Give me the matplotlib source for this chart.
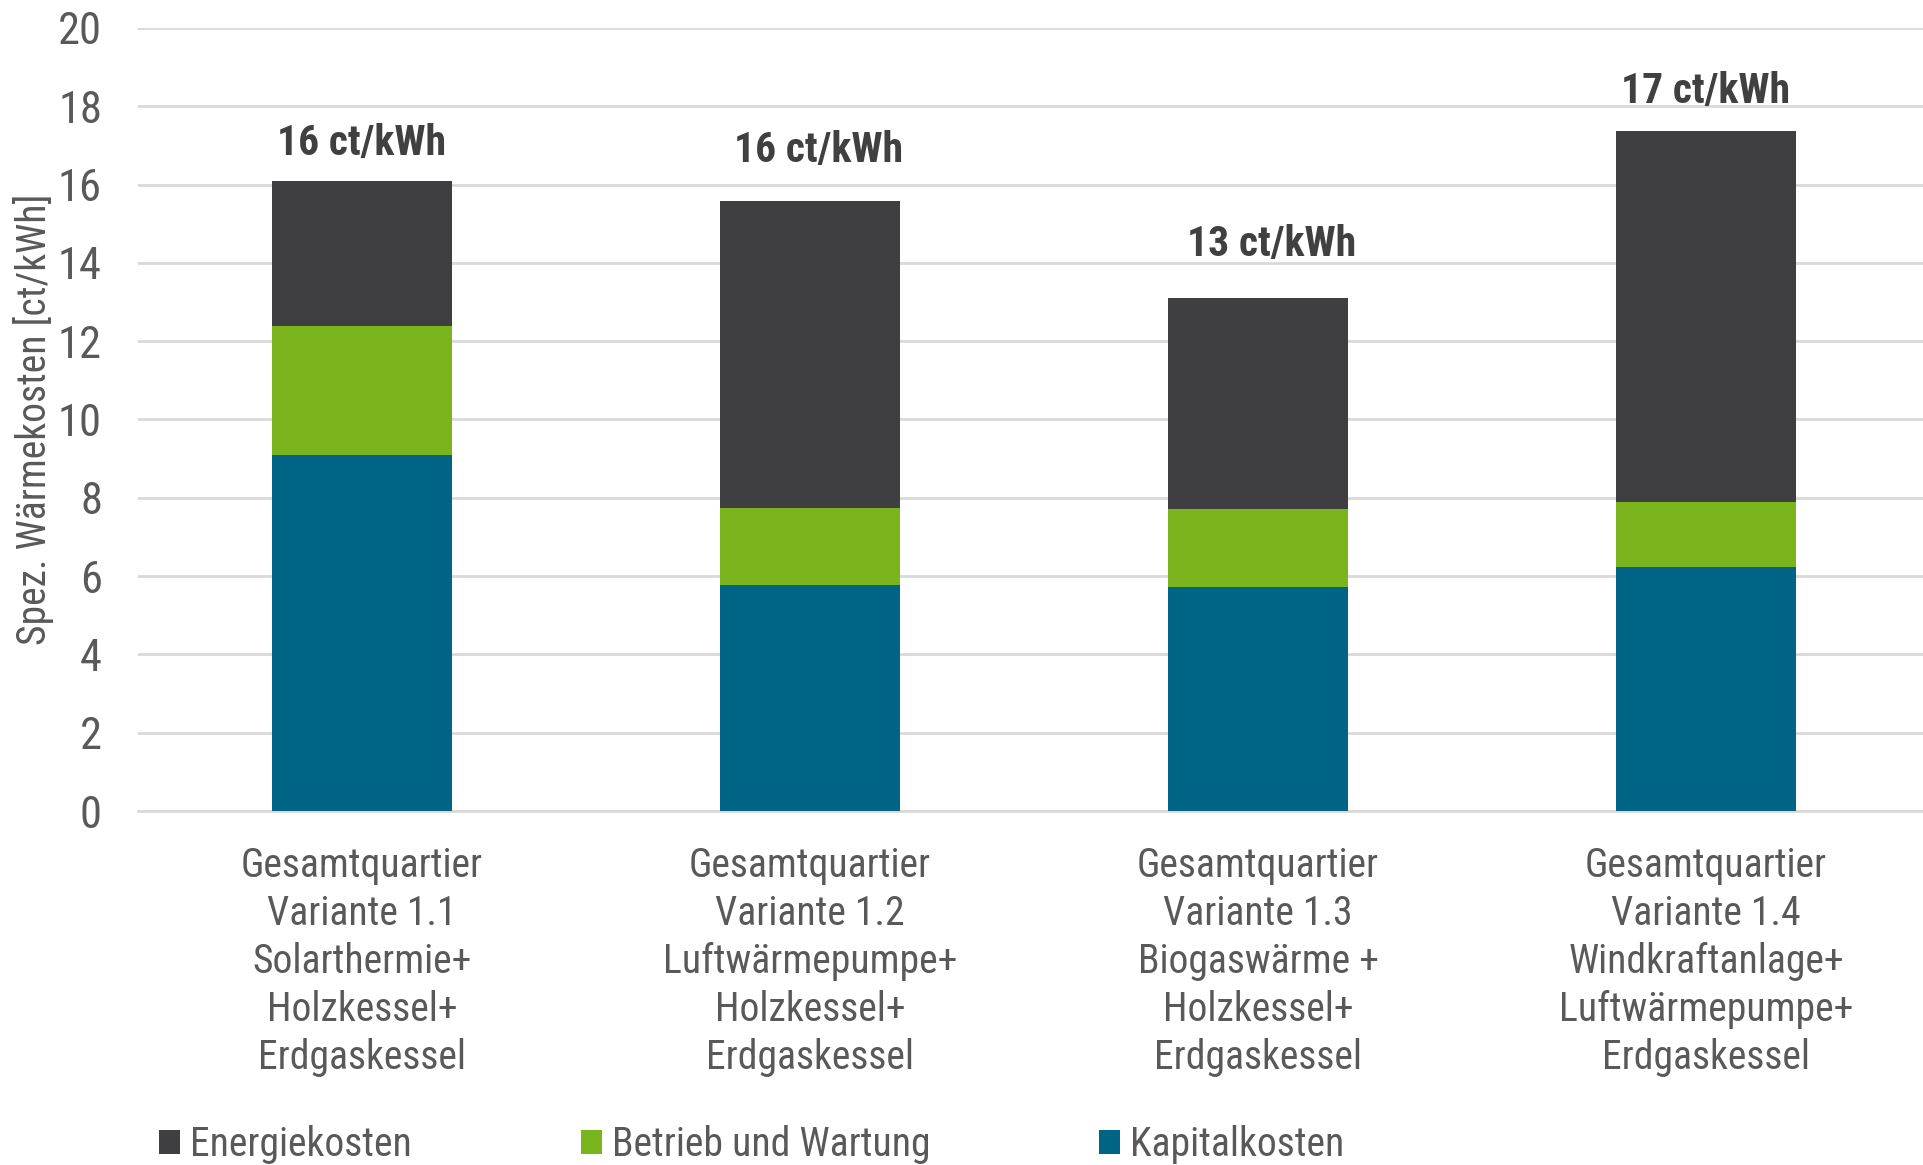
import matplotlib
matplotlib.use("Agg")
import matplotlib.pyplot as plt
from matplotlib.patches import Patch
from matplotlib import font_manager

# --- data -------------------------------------------------------------
categories = [
    "Gesamtquartier\nVariante 1.1\nSolarthermie+\nHolzkessel+\nErdgaskessel",
    "Gesamtquartier\nVariante 1.2\nLuftwärmepumpe+\nHolzkessel+\nErdgaskessel",
    "Gesamtquartier\nVariante 1.3\nBiogaswärme +\nHolzkessel+\nErdgaskessel",
    "Gesamtquartier\nVariante 1.4\nWindkraftanlage+\nLuftwärmepumpe+\nErdgaskessel",
]
kapitalkosten = [9.09, 5.78, 5.72, 6.24]
betrieb_wartung = [3.30, 1.96, 1.99, 1.64]
energiekosten = [3.70, 7.84, 5.40, 9.50]
total_labels = ["16 ct/kWh", "16 ct/kWh", "13 ct/kWh", "17 ct/kWh"]
y_ticks = [0, 2, 4, 6, 8, 10, 12, 14, 16, 18, 20]


# --- font: prefer a narrow sans, otherwise a regular one ---------------
def pick_font():
    stretches = {}
    for f in font_manager.fontManager.ttflist:
        stretches.setdefault(f.name, set()).add(str(f.stretch))
    for name in ["Liberation Sans Narrow", "Arial Narrow", "Roboto Condensed",
                 "Noto Sans Condensed", "Open Sans Condensed", "DejaVu Sans Condensed"]:
        if name in stretches:
            return name, "normal", True
    narrow = {"condensed", "semi-condensed", "extra-condensed", "ultra-condensed"}
    for name in ["Liberation Sans", "Roboto", "Noto Sans", "Open Sans", "Lato", "Inter"]:
        hit = stretches.get(name, set()) & narrow
        if hit:
            return name, "condensed" if "condensed" in hit else sorted(hit)[0], True
    for name in ["Liberation Sans", "DejaVu Sans"]:
        if name in stretches:
            return name, "normal", False
    return "DejaVu Sans", "normal", False


font_name, font_stretch, is_narrow = pick_font()
plt.rcParams["font.family"] = [font_name, "DejaVu Sans"]
plt.rcParams["font.stretch"] = font_stretch

fs_main = 28.5 if is_narrow else 27
fs_tick = 32 if is_narrow else 29
fs_value = 30 if is_narrow else 27

col_energie = "#3F3F41"
col_betrieb = "#7AB51D"
col_kapital = "#006487"
col_text = "#595959"
col_grid = "#D9D9D9"

W, H = 1923, 1165
fig = plt.figure(figsize=(W / 100, H / 100), dpi=100)
ax = fig.add_axes([138 / W, 1 - 811 / H, (W - 138) / W, (811 - 28) / H])

x = list(range(len(categories)))
bw = 0.4
base2 = [k + b for k, b in zip(kapitalkosten, betrieb_wartung)]
ax.bar(x, kapitalkosten, bw, color=col_kapital, zorder=3)
ax.bar(x, betrieb_wartung, bw, bottom=kapitalkosten, color=col_betrieb, zorder=3)
ax.bar(x, energiekosten, bw, bottom=base2, color=col_energie, zorder=3)

# total cost labels above each stack
totals = [a + b for a, b in zip(base2, energiekosten)]
label_lift = [0.66, 1.0, 1.07, 0.71]
label_shift = [0.0, 0.018, 0.03, 0.0]
for xi, t, txt, lift, dx in zip(x, totals, total_labels, label_lift, label_shift):
    ax.text(xi + dx, t + lift, txt, ha="center", va="baseline",
            fontsize=fs_value, fontweight="bold", color="#404040")

ax.set_xlim(-0.5, -0.5 + (W - 138) / 448)
ax.set_ylim(0, 20)
ax.set_yticks(y_ticks)
ax.yaxis.grid(True, color=col_grid, linewidth=2, zorder=0)
ax.set_axisbelow(True)
for s in ["top", "right", "left"]:
    ax.spines[s].set_visible(False)
ax.spines["bottom"].set_color(col_grid)
ax.spines["bottom"].set_linewidth(2)

ax.tick_params(axis="y", length=0, pad=26, labelsize=fs_tick, labelcolor=col_text)
ax.tick_params(axis="x", length=0, pad=25, labelsize=fs_main, labelcolor=col_text)
ax.set_xticks(x)
ax.set_xticklabels(categories, linespacing=1.29)

ax.set_ylabel("Spez. Wärmekosten [ct/kWh]", fontsize=fs_main, color=col_text, va="center")
ax.yaxis.set_label_coords((33 - 138) / (W - 138), 0.5)

handles = [
    Patch(facecolor=col_energie, label="Energiekosten"),
    Patch(facecolor=col_betrieb, label="Betrieb und Wartung"),
    Patch(facecolor=col_kapital, label="Kapitalkosten"),
]
px_per_em = fs_main * 100 / 72
leg = fig.legend(handles=handles, loc="center left", bbox_to_anchor=(159 / W, 1 - 1144 / H),
                 ncol=3, frameon=False, fontsize=fs_main,
                 handlelength=21 / px_per_em, handleheight=22 / px_per_em,
                 handletextpad=10 / px_per_em,
                 columnspacing=(169 if is_narrow else 120) / px_per_em,
                 borderaxespad=0, borderpad=0)
for t in leg.get_texts():
    t.set_color(col_text)

fig.savefig("out.png", dpi=100)
